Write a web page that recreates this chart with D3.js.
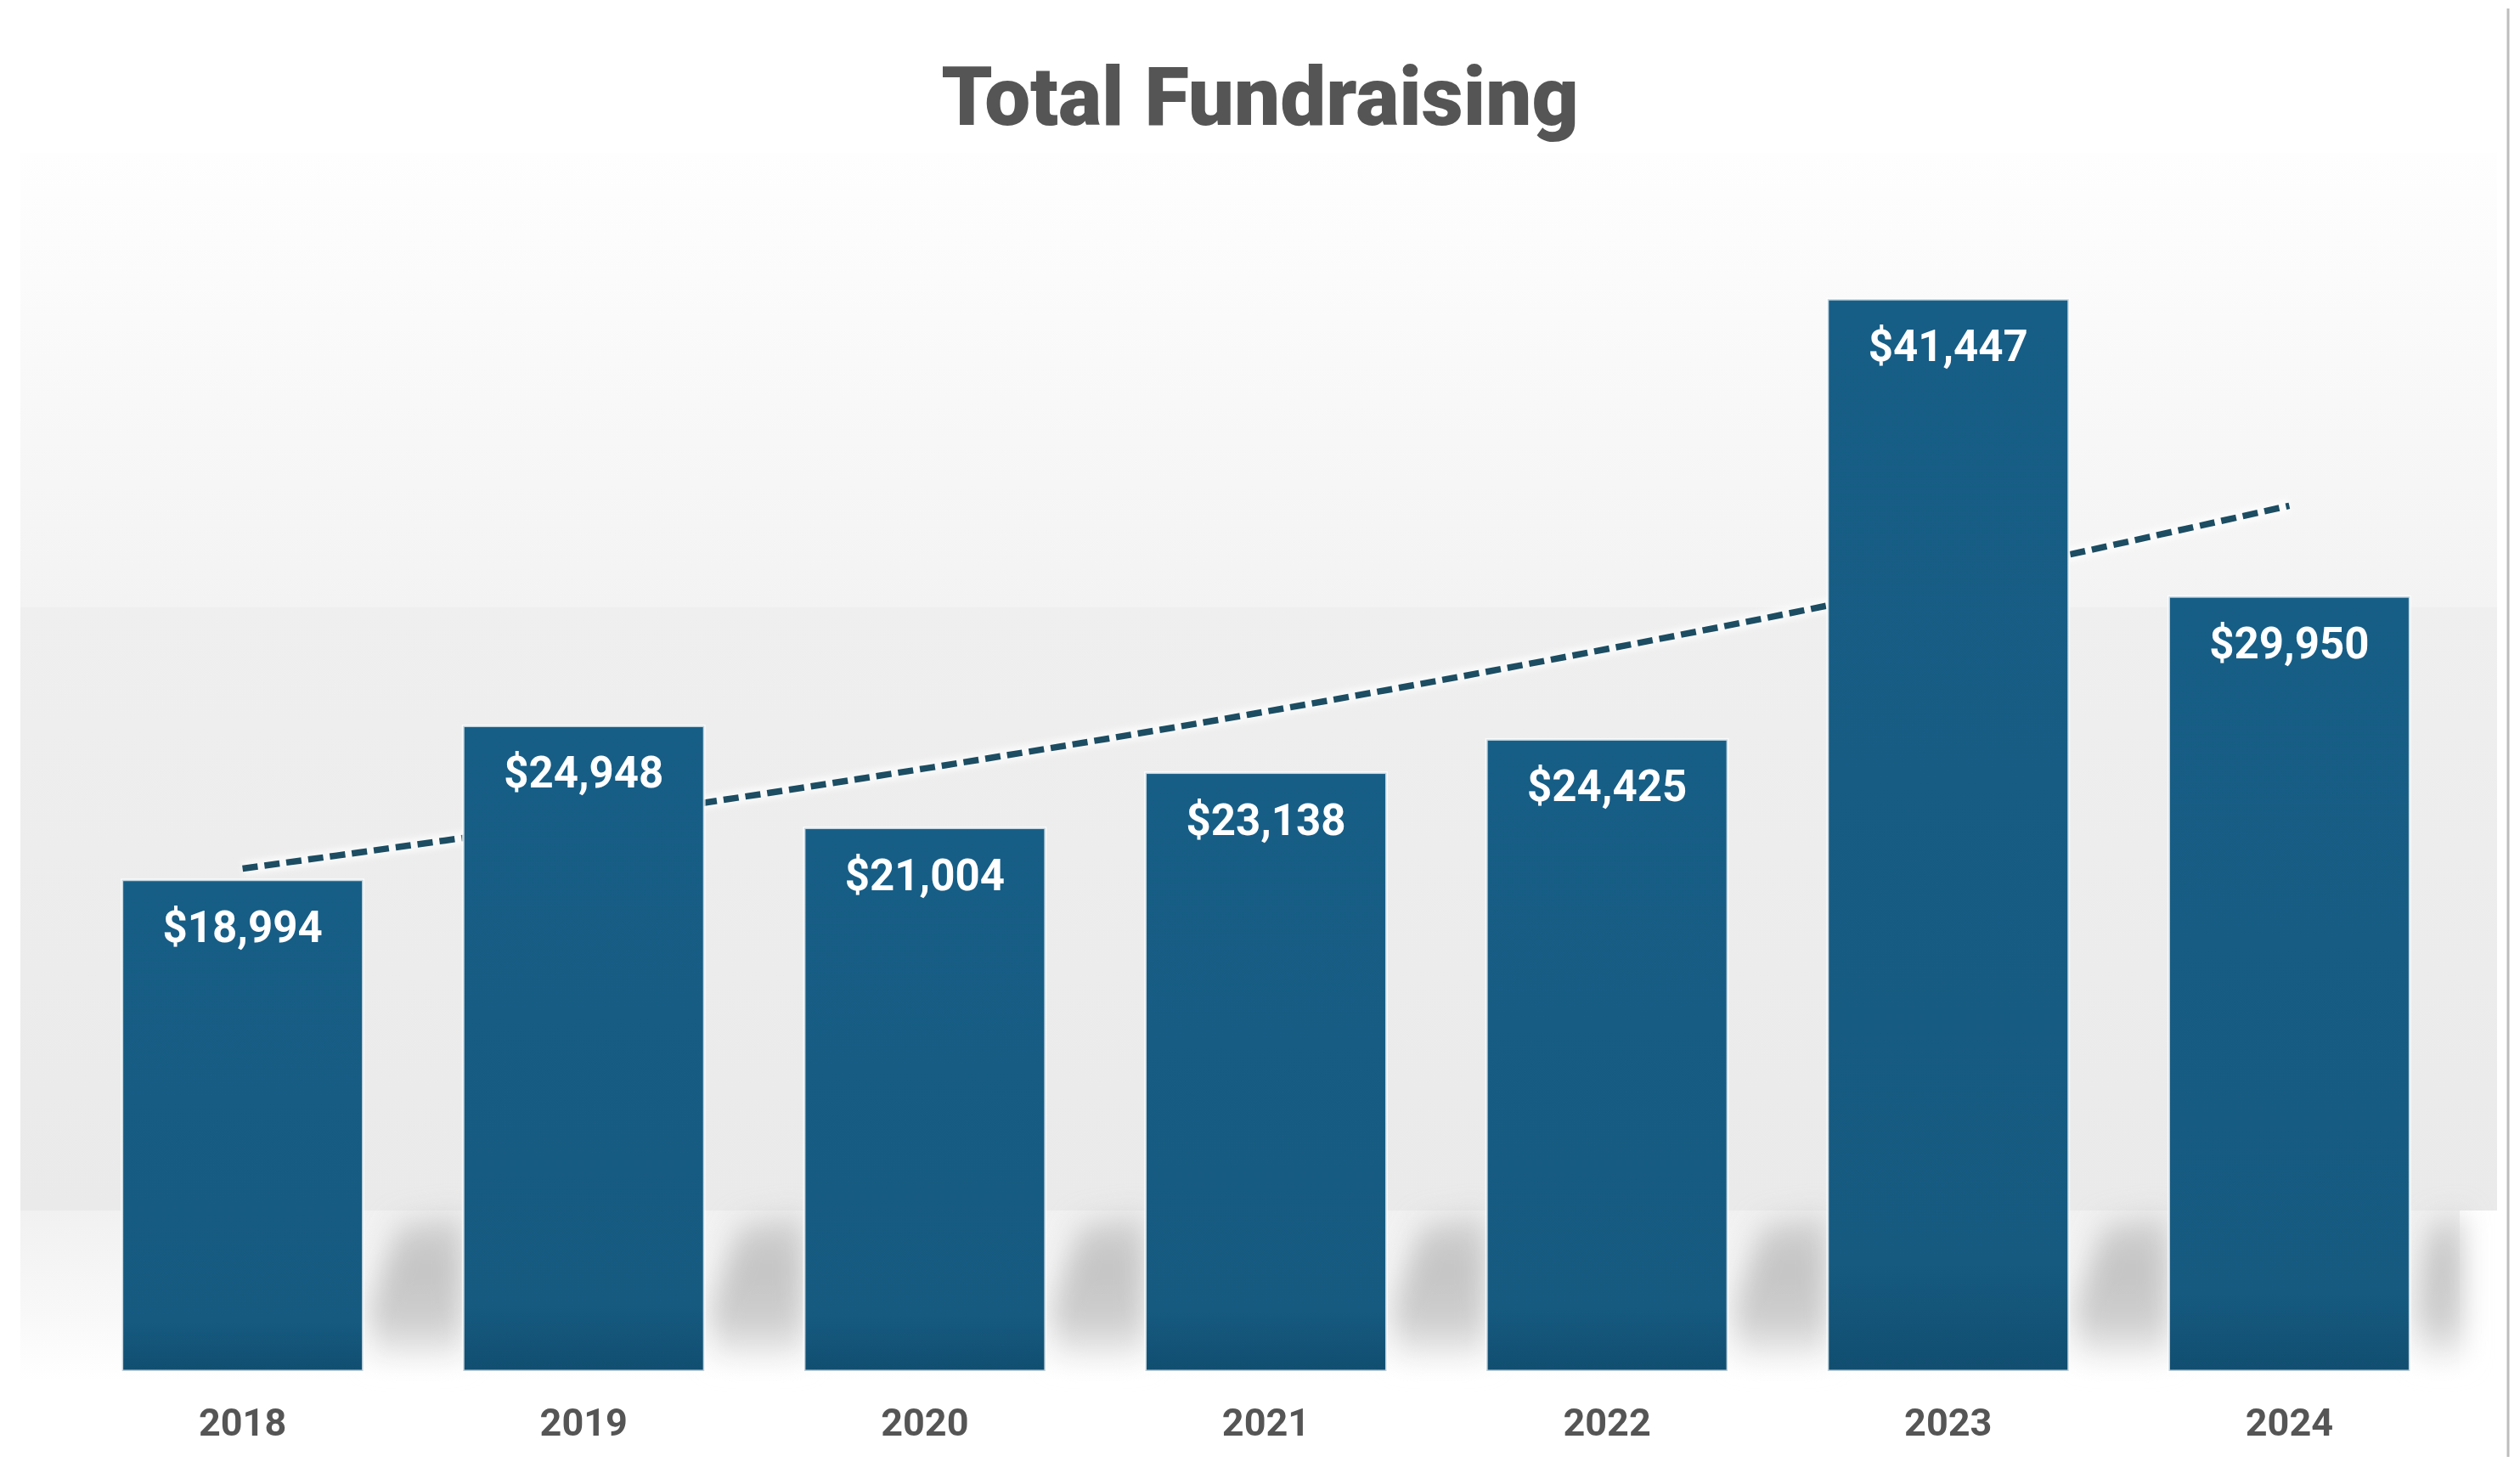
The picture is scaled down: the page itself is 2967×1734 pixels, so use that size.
<!DOCTYPE html>
<html>
<head>
<meta charset="utf-8">
<script src="https://cdn.jsdelivr.net/npm/d3@7"></script>
<style>
  html, body { margin: 0; padding: 0; background: #ffffff; }
  svg { display: block; }
</style>
</head>
<body>
<svg id="chart" width="2967" height="1734"></svg>
<script>
// ---- data ----
const years = ["2018", "2019", "2020", "2021", "2022", "2023", "2024"];
const totals = [18994, 24948, 21004, 23138, 24425, 41447, 29950];
// dashed trendline level at each year
const trendValues = [19430, 21280, 23300, 25500, 27920, 30560, 33460];
const titleText = "Total Fundraising";

// ---- layout ----
const W = 2967, H = 1734;
const svg = d3.select("#chart");
const defs = svg.append("defs");

const x = d3.scaleBand()
  .domain(years)
  .range([85, 2896])
  .paddingInner(0.293)
  .paddingOuter(0.146);

const y = d3.scaleLinear()
  .domain([0, 45000])
  .range([1614, 244]);

const fmt = v => "$" + d3.format(",")(v);

// gradients
function vGrad(id, stops) {
  const g = defs.append("linearGradient").attr("id", id)
    .attr("x1", 0).attr("y1", 0).attr("x2", 0).attr("y2", 1);
  stops.forEach(s => g.append("stop").attr("offset", s[0]).attr("stop-color", s[1]));
}
vGrad("bgTop", [[0, "#fefefe"], [1, "#f3f3f3"]]);
vGrad("bgMid", [[0, "#efefef"], [1, "#eaeaea"]]);
vGrad("bgLow", [[0, "#f1f1f1"], [0.6, "#f8f8f8"], [1, "#ffffff"]]);
vGrad("barFill", [[0, "#175e86"], [0.9, "#165a80"], [1, "#114e70"]]);
vGrad("shadowFill", [[0, "#d4d4d4"], [0.35, "#bfbfbf"], [0.75, "#c9c9c9"], [1, "#f2f2f2"]]);

const blur = defs.append("filter").attr("id", "blur")
  .attr("x", "-50%").attr("y", "-50%").attr("width", "200%").attr("height", "200%");
blur.append("feGaussianBlur").attr("stdDeviation", 16);

const blurSoft = defs.append("filter").attr("id", "blurSoft")
  .attr("x", "-20%").attr("y", "-20%").attr("width", "140%").attr("height", "140%");
blurSoft.append("feGaussianBlur").attr("stdDeviation", 3);

// ---- background panel ----
const bg = svg.append("g");
bg.append("rect").attr("x", 24).attr("y", 180).attr("width", 2916).attr("height", 535)
  .attr("fill", "url(#bgTop)");
bg.append("rect").attr("x", 24).attr("y", 715).attr("width", 2916).attr("height", 710)
  .attr("fill", "url(#bgMid)");
bg.append("rect").attr("x", 24).attr("y", 1425).attr("width", 2872).attr("height", 200)
  .attr("fill", "url(#bgLow)");

// right frame line
svg.append("line")
  .attr("x1", 2953).attr("x2", 2953).attr("y1", 10).attr("y2", 1715)
  .attr("stroke", "#bdbdbd").attr("stroke-width", 3);

// cast shadows in the gaps, right of each bar
const gapShadow = svg.append("g").attr("filter", "url(#blur)");
gapShadow.selectAll("path")
  .data(years)
  .join("path")
  .attr("d", (d, i) => {
    const R = x(d) + x.bandwidth();
    const L = i === years.length - 1 ? R + 62 : x(years[i + 1]);
    const g = L - R;
    return `M${R + 12},1600 L${R + 8},1540 L${R + g * 0.35},1440 L${L},1428 L${L},1600 Z`;
  })
  .attr("fill", "url(#shadowFill)")
  .attr("opacity", 0.9);

// ---- trendline (drawn before bars so bars hide it) ----
const trendLine = d3.line()
  .x((d, i) => x(years[i]) + x.bandwidth() / 2)
  .y(d => y(d))
  .curve(d3.curveCatmullRom.alpha(0.5));

svg.append("path")
  .datum(trendValues)
  .attr("d", trendLine)
  .attr("fill", "none")
  .attr("stroke", "#ffffff")
  .attr("stroke-width", 16)
  .attr("opacity", 0.7)
  .attr("filter", "url(#blurSoft)");

svg.append("path")
  .datum(trendValues)
  .attr("d", trendLine)
  .attr("fill", "none")
  .attr("stroke", "#1c4d62")
  .attr("stroke-width", 7.5)
  .attr("stroke-dasharray", "18 8");

// ---- bars ----
svg.append("g")
  .selectAll("rect")
  .data(totals)
  .join("rect")
  .attr("x", (d, i) => x(years[i]))
  .attr("y", d => y(d))
  .attr("width", x.bandwidth())
  .attr("height", d => y(0) - y(d))
  .attr("fill", "url(#barFill)")
  .attr("stroke", "rgba(255,255,255,0.75)")
  .attr("stroke-width", 3);

// ---- value labels inside bars ----
svg.append("g")
  .selectAll("text")
  .data(totals)
  .join("text")
  .attr("x", (d, i) => x(years[i]) + x.bandwidth() / 2)
  .attr("y", d => y(d) + 73)
  .attr("text-anchor", "middle")
  .attr("font-family", "Roboto, 'Liberation Sans', sans-serif")
  .attr("font-weight", 700)
  .attr("font-size", 51)
  .attr("fill", "#ffffff")
  .text(d => fmt(d));

// ---- x axis labels ----
const xAxis = d3.axisBottom(x).tickSize(0).tickPadding(0);
const ax = svg.append("g")
  .attr("transform", `translate(0, ${y(0)})`)
  .call(xAxis);
ax.select(".domain").remove();
ax.selectAll("text")
  .attr("dy", null)
  .attr("y", 76)
  .attr("font-family", "Roboto, 'Liberation Sans', sans-serif")
  .attr("font-weight", 700)
  .attr("font-size", 45)
  .attr("fill", "#555555");

// ---- title ----
svg.append("text")
  .attr("x", W / 2)
  .attr("y", 147)
  .attr("text-anchor", "middle")
  .attr("font-family", "Roboto, 'Liberation Sans', sans-serif")
  .attr("font-weight", 900)
  .attr("font-size", 96)
  .attr("fill", "#555555")
  .text(titleText);
</script>
</body>
</html>
